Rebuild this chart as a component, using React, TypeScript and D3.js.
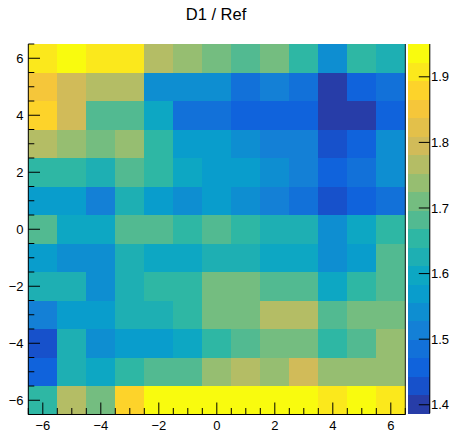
import React from "react";
import * as d3 from "d3";

const title = "D1 / Ref";
const xCenters = [-6, -5, -4, -3, -2, -1, 0, 1, 2, 3, 4, 5, 6];
const yCenters = [6, 5, 4, 3, 2, 1, 0, -1, -2, -3, -4, -5, -6];

const rowY6 = [1.91, 1.93, 1.91, 1.91, 1.77, 1.74, 1.71, 1.68, 1.71, 1.65, 1.54, 1.65, 1.62];
const rowY5 = [1.85, 1.79, 1.77, 1.77, 1.54, 1.54, 1.54, 1.48, 1.51, 1.48, 1.40, 1.46, 1.48];
const rowY4 = [1.88, 1.79, 1.68, 1.68, 1.60, 1.48, 1.48, 1.46, 1.46, 1.46, 1.40, 1.40, 1.46];
const rowY3 = [1.77, 1.74, 1.71, 1.74, 1.65, 1.57, 1.57, 1.54, 1.51, 1.51, 1.43, 1.46, 1.54];
const rowY2 = [1.65, 1.65, 1.62, 1.68, 1.65, 1.60, 1.57, 1.57, 1.54, 1.51, 1.46, 1.48, 1.54];
const rowY1 = [1.57, 1.57, 1.51, 1.62, 1.57, 1.54, 1.57, 1.54, 1.51, 1.48, 1.43, 1.46, 1.48];
const rowY0 = [1.68, 1.60, 1.60, 1.68, 1.68, 1.65, 1.68, 1.65, 1.62, 1.62, 1.54, 1.60, 1.65];
const rowYm1 = [1.57, 1.54, 1.54, 1.62, 1.60, 1.60, 1.62, 1.62, 1.60, 1.60, 1.54, 1.57, 1.68];
const rowYm2 = [1.62, 1.62, 1.54, 1.62, 1.65, 1.65, 1.71, 1.71, 1.68, 1.68, 1.60, 1.65, 1.68];
const rowYm3 = [1.51, 1.57, 1.57, 1.62, 1.62, 1.65, 1.71, 1.71, 1.77, 1.77, 1.68, 1.71, 1.71];
const rowYm4 = [1.43, 1.62, 1.54, 1.57, 1.57, 1.60, 1.65, 1.68, 1.71, 1.71, 1.65, 1.68, 1.74];
const rowYm5 = [1.46, 1.62, 1.60, 1.65, 1.68, 1.68, 1.74, 1.77, 1.74, 1.79, 1.74, 1.74, 1.74];
const rowYm6 = [1.65, 1.77, 1.71, 1.88, 1.93, 1.93, 1.93, 1.93, 1.93, 1.93, 1.91, 1.93, 1.91];

const rows = [rowY6, rowY5, rowY4, rowY3, rowY2, rowY1, rowY0, rowYm1, rowYm2, rowYm3, rowYm4, rowYm5, rowYm6];

const xTicks = [-6, -4, -2, 0, 2, 4, 6];
const yTicks = [-6, -4, -2, 0, 2, 4, 6];
const zTicks = [1.4, 1.5, 1.6, 1.7, 1.8, 1.9];
const zMin = 1.387;
const zMax = 1.95;
const nContours = 20;

// ROOT kBird palette stops
const birdStops = [0.0, 0.125, 0.25, 0.375, 0.5, 0.625, 0.75, 0.875, 1.0];
const birdR = [0.2082, 0.0592, 0.078, 0.0232, 0.1802, 0.5301, 0.8186, 0.9956, 0.9764];
const birdG = [0.1664, 0.3599, 0.5041, 0.6419, 0.7178, 0.7492, 0.7328, 0.7862, 0.9832];
const birdB = [0.5293, 0.8684, 0.8385, 0.7914, 0.6425, 0.4662, 0.3499, 0.1968, 0.0539];

const birdColor = (f: number) => {
  const r = d3.scaleLinear().domain(birdStops).range(birdR)(f);
  const g = d3.scaleLinear().domain(birdStops).range(birdG)(f);
  const b = d3.scaleLinear().domain(birdStops).range(birdB)(f);
  return d3.rgb(r * 255, g * 255, b * 255).formatHex();
};

const bandColors = d3.range(nContours).map((i) => {
  const idx = Math.floor(((i + 0.99) * 255) / nContours);
  return birdColor(Math.min(idx, 254) / 254);
});

const W = 457;
const H = 433;
const L = 28.3, R = 405.3, T = 44, B = 414.5;
const PL = 408, PR = 429.8, PT = 44, PB = 413.3;

export default function App() {
  const x = d3.scaleLinear().domain([-6.5, 6.5]).range([L, R]);
  const y = d3.scaleLinear().domain([-6.5, 6.5]).range([B, T]);
  const z = d3.scaleLinear().domain([zMin, zMax]).range([PB, PT]);
  const color = d3.scaleQuantize<string>().domain([zMin, zMax]).range(bandColors);
  const bandEdges = d3.range(nContours + 1).map((i) => zMin + ((zMax - zMin) * i) / nContours);
  const minorTicks = d3.range(-6.5, 6.51, 0.5);
  const font = "'Liberation Sans', Arial, sans-serif";
  const fmt = (v: number) => (v < 0 ? "\u2212" + Math.abs(v) : String(v));

  return (
    <svg width={W} height={H} style={{ position: "absolute", left: 0, top: 0, background: "#fff" }}>
      <rect x={0} y={0} width={W} height={H} fill="#fff" />
      <g shapeRendering="crispEdges">
        {rows.map((row, ri) =>
          row.map((v, ci) => (
            <rect
              key={`c${ri}-${ci}`}
              x={x(xCenters[ci] - 0.5)}
              y={y(yCenters[ri] + 0.5)}
              width={x(xCenters[ci] + 0.5) - x(xCenters[ci] - 0.5) + 0.5}
              height={y(yCenters[ri] - 0.5) - y(yCenters[ri] + 0.5) + 0.5}
              fill={color(v)}
            />
          ))
        )}
        {bandColors.map((c, i) => (
          <rect
            key={`p${i}`}
            x={PL}
            y={z(bandEdges[i + 1])}
            width={PR - PL}
            height={z(bandEdges[i]) - z(bandEdges[i + 1]) + 0.5}
            fill={c}
          />
        ))}
      </g>
      {/* frame */}
      <line x1={L} x2={L} y1={T} y2={B} stroke="#000" />
      <line x1={L} x2={R} y1={B} y2={B} stroke="#000" />
      <line x1={R} x2={R} y1={T} y2={B} stroke="#222" />
      {/* x ticks */}
      {minorTicks.map((t) => {
        const major = xTicks.includes(t);
        return <line key={`xt${t}`} x1={x(t)} x2={x(t)} y1={B} y2={B - (major ? 12 : 6.5)} stroke="#000" />;
      })}
      {minorTicks.map((t) => {
        const major = yTicks.includes(t);
        return <line key={`yt${t}`} x1={L} x2={L + (major ? 11.7 : 6)} y1={y(t)} y2={y(t)} stroke="#000" />;
      })}
      {xTicks.map((t) => (
        <text key={`xl${t}`} x={x(t)} y={429.5} fontSize={13} fontFamily={font} textAnchor="middle" fill="#000">
          {fmt(t)}
        </text>
      ))}
      {yTicks.map((t) => (
        <text key={`yl${t}`} x={23.5} y={y(t)} dy="0.36em" fontSize={13} fontFamily={font} textAnchor="end" fill="#000">
          {fmt(t)}
        </text>
      ))}
      {/* palette axis */}
      <line x1={PR} x2={PR} y1={PT} y2={PB} stroke="#000" />
      {zTicks.map((t) => (
        <g key={`zt${t}`}>
          <line x1={PR} x2={PR - 11} y1={z(t)} y2={z(t)} stroke="#000" />
          <text x={431} y={z(t)} dy="0.36em" fontSize={13} fontFamily={font} fill="#000">
            {t.toFixed(1)}
          </text>
        </g>
      ))}
      <text x={216} y={19.5} fontSize={16.5} fontFamily={font} textAnchor="middle" fill="#000">
        {title}
      </text>
    </svg>
  );
}
